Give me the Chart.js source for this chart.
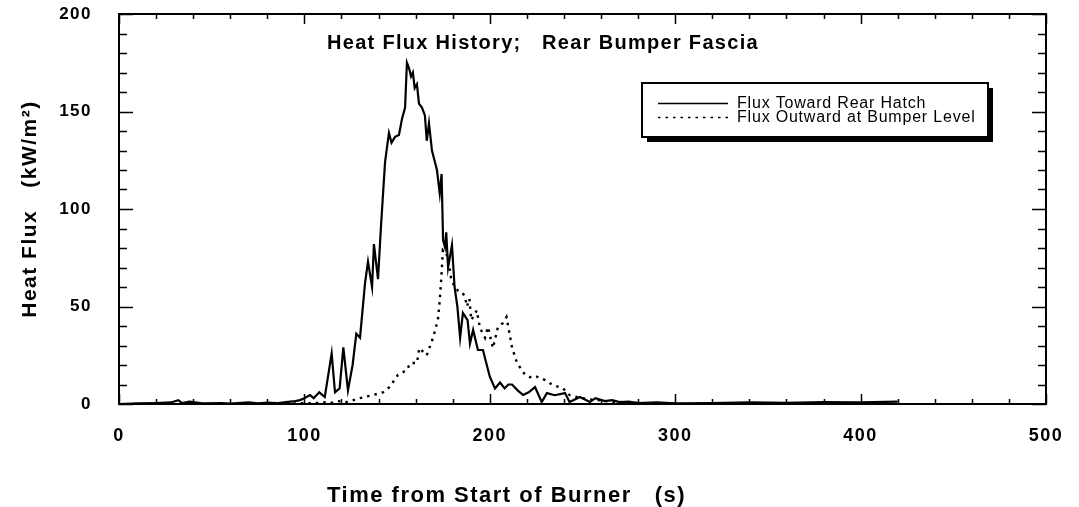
<!DOCTYPE html>
<html>
<head>
<meta charset="utf-8">
<script src="https://cdn.jsdelivr.net/npm/chart.js@4/dist/chart.umd.min.js"></script>
<style>
html,body{margin:0;padding:0;background:#fff;}
#wrap{width:1079px;height:507px;position:relative;}
</style>
</head>
<body>
<div id="wrap"><canvas id="c" width="1079" height="507"></canvas></div>
<script>
// ---- Data ----
const titleText = "Heat Flux History;   Rear Bumper Fascia";
const xTitle = "Time from Start of Burner   (s)";
const yTitle = "Heat Flux   (kW/m\u00B2)";
const seriesNames = ["Flux Toward Rear Hatch", "Flux Outward at Bumper Level"];
const xTickValues = [0, 100, 200, 300, 400, 500];
const yTickValues = [0, 50, 100, 150, 200];

const timeHatch = [0,10,20,28,32,34,38,45,55,60,70,75,80,85,90,95,97.6,100,103,105,108,111,114.7,116.5,119,121,123.5,126,128,130,132.7,134.3,136.5,137.5,139.7,141.3,143.5,145.6,147,148.9,151,152.6,154.3,155.3,156.5,157.5,158.5,159.5,160.7,161.8,163.4,165,166,167.2,168.8,171.5,173,174,174.8,175.8,176.5,177.5,179.6,181,182.5,184,185.5,188,189.3,191,193.6,196.3,200,202.8,205.5,208,210,212,215,218,221,224.4,228,230.8,235,240.6,243,248.6,254,257,262,266,270,275,280,290,300,320,340,360,380,400,420];
const fluxHatch = [0,0.3,0.5,0.8,2,0.5,1.2,0.3,0.5,0.2,0.8,0.3,0.7,0.4,1,1.5,2,3,4.6,3,6,3.6,26,6,8,29,7,20,36,34,62,73,60,82,64,91,124,139,134,137,138,146,152,175,172,168,170,162,164,154,152,148,135,144,130,120,108,118,84,80.5,88,70,81.5,60,50,34,46.7,43,31,38,27.7,27.7,14,8,11,8,10,10,7,4.6,6,8.7,1,5.6,4.5,5.6,1,3.6,1,3,1.5,2,1,1.2,0.5,0.8,0.3,0.5,0.8,0.6,1,0.8,1.2];

const timeBumper = [90,100,105,110,114,118,123,130,137,142.4,146,150.5,155.3,157,160.7,162,166,169.4,172,173,174,174.7,176,177.5,179,181,183,185,186.6,187.7,189,190,193,194.7,197.4,199,201.7,204.4,207,209,212,214.7,219,222.8,225.4,229.8,234,239.5,243,247,253,258,265,270,280,290,300];
const fluxBumper = [0,0.5,0.3,1,0.5,1.5,1,3,4.6,6,8.7,15,17.4,21,21,28.7,25,34,43,53,67,79,78,75,65,60,58,57.4,55,50,54,43,48,39,34,39.5,28.7,39.5,41.5,44.6,29,21,15,13.3,14,12.3,9.7,8,4.6,3.6,2.5,2,1.2,1,0.5,0.3,0.2];

const FONT = "'Liberation Sans', Arial, Helvetica, sans-serif";

const pts = (xs, ys) => xs.map((x, i) => ({x: x, y: ys[i]}));

const framePlugin = {
  id: 'frame',
  beforeDraw(chart) {
    chart.ctx.letterSpacing = '1.5px';
  },
  afterDatasetsDraw(chart) {
    const {ctx, chartArea: a, scales: {x, y}} = chart;
    ctx.save();
    ctx.strokeStyle = '#000';
    ctx.lineWidth = 2;
    ctx.strokeRect(a.left, a.top, a.right - a.left, a.bottom - a.top);
    ctx.lineWidth = 1.5;
    ctx.beginPath();
    for (let v = 0; v <= 500; v += 20) {
      const px = Math.round(x.getPixelForValue(v)) + 0.5;
      const len = v % 100 === 0 ? 10 : 5;
      ctx.moveTo(px, a.bottom); ctx.lineTo(px, a.bottom - len);
      ctx.moveTo(px, a.top); ctx.lineTo(px, a.top + len);
    }
    for (let v = 0; v <= 200; v += 10) {
      const py = Math.round(y.getPixelForValue(v)) + 0.5;
      const len = v % 50 === 0 ? 14 : 8;
      ctx.moveTo(a.left, py); ctx.lineTo(a.left + len, py);
      ctx.moveTo(a.right, py); ctx.lineTo(a.right - len, py);
    }
    ctx.stroke();

    // Title inside plot
    ctx.fillStyle = '#000';
    ctx.font = 'bold 20px ' + FONT;
    ctx.letterSpacing = '1.3px';
    ctx.textAlign = 'left';
    ctx.textBaseline = 'alphabetic';
    ctx.fillText(titleText, 327, 49);

    // Legend box with drop shadow
    const lx = 642, ly = 83, lw = 346, lh = 54;
    ctx.fillStyle = '#000';
    ctx.fillRect(lx + 5, ly + 5, lw, lh);
    ctx.fillStyle = '#fff';
    ctx.fillRect(lx, ly, lw, lh);
    ctx.lineWidth = 2;
    ctx.strokeRect(lx, ly, lw, lh);
    const ds = chart.data.datasets;
    const rows = [103, 117];
    ctx.font = '16px ' + FONT;
    ctx.letterSpacing = '0.8px';
    ctx.textBaseline = 'middle';
    ds.forEach((d, i) => {
      ctx.beginPath();
      ctx.lineWidth = 1.5;
      ctx.setLineDash(d.borderDash || []);
      ctx.moveTo(658, rows[i] + 0.5); ctx.lineTo(728, rows[i] + 0.5);
      ctx.stroke();
      ctx.setLineDash([]);
      ctx.fillStyle = '#000';
      ctx.fillText(d.label, 737, rows[i] + 1);
    });

    // X axis title
    ctx.font = 'bold 22px ' + FONT;
    ctx.letterSpacing = '1.5px';
    ctx.textAlign = 'left';
    ctx.textBaseline = 'middle';
    ctx.fillText(xTitle, 327, 496);
    ctx.restore();
  }
};

new Chart(document.getElementById('c'), {
  type: 'line',
  data: {
    datasets: [
      {label: seriesNames[0], data: pts(timeHatch, fluxHatch), borderColor: '#000', borderWidth: 2.2, pointRadius: 0, tension: 0, fill: false},
      {label: seriesNames[1], data: pts(timeBumper, fluxBumper), borderColor: '#000', borderWidth: 2.4, borderDash: [2.5, 5], pointRadius: 0, tension: 0, fill: false}
    ]
  },
  options: {
    responsive: false,
    animation: false,
    layout: {autoPadding: false, padding: {top: 14, right: 33, left: 0, bottom: 0}},
    plugins: {legend: {display: false}, tooltip: {enabled: false}, title: {display: false}},
    scales: {
      x: {
        type: 'linear', min: 0, max: 500,
        afterFit(s) { s.height = 103; s.paddingLeft = 0; s.paddingRight = 0; s.paddingTop = 0; s.paddingBottom = 0; },
        afterBuildTicks(s) { s.ticks = xTickValues.map(v => ({value: v})); },
        grid: {display: true, drawOnChartArea: false, drawTicks: false},
        border: {display: false},
        ticks: {color: '#000', padding: 21, maxRotation: 0, font: {family: FONT, size: 18, weight: 'bold'}}
      },
      y: {
        type: 'linear', min: 0, max: 200,
        afterFit(s) { s.width = 119; s.paddingLeft = 0; s.paddingRight = 0; s.paddingTop = 0; s.paddingBottom = 0; },
        afterBuildTicks(s) { s.ticks = yTickValues.map(v => ({value: v})); },
        grid: {display: true, drawOnChartArea: false, drawTicks: false},
        border: {display: false},
        ticks: {color: '#000', padding: 27, font: {family: FONT, size: 17, weight: 'bold'}},
        title: {display: true, text: yTitle, color: '#000', padding: {top: 20, bottom: 0}, font: {family: FONT, size: 21, weight: 'bold', lineHeight: 1}}
      }
    }
  },
  plugins: [framePlugin]
});
</script>
</body>
</html>
